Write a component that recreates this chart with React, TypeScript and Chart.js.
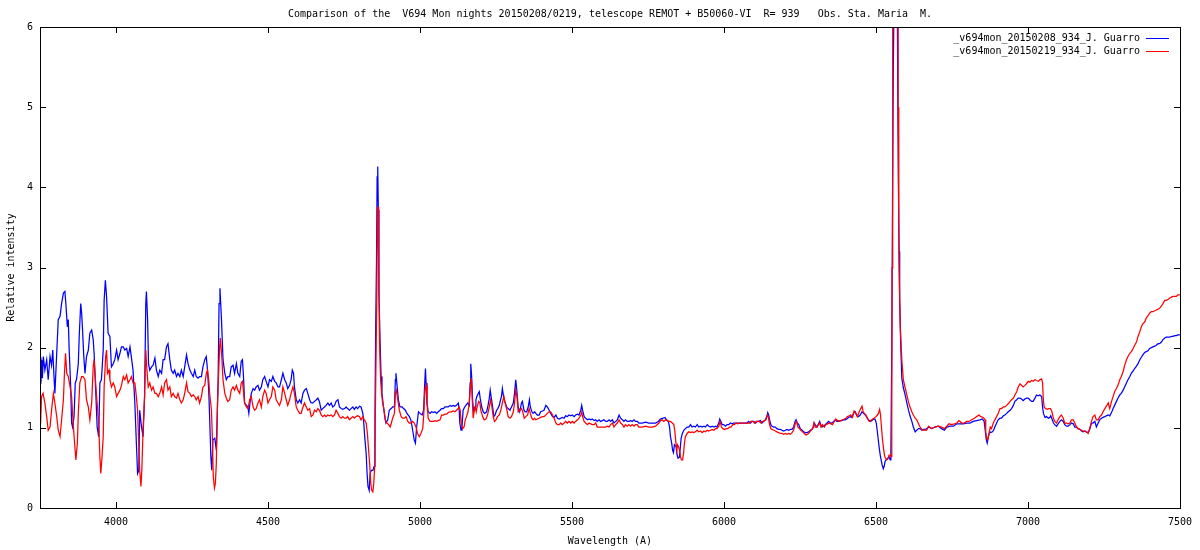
import { useEffect, useRef } from 'react';
import { Chart, registerables } from 'chart.js';

Chart.register(...registerables);

const TITLE = 'Comparison of the  V694 Mon nights 20150208/0219, telescope REMOT + B50060-VI  R= 939   Obs. Sta. Maria  M.';
const X_LABEL = 'Wavelength (A)';
const Y_LABEL = 'Relative intensity';
const X_TICKS = [4000, 4500, 5000, 5500, 6000, 6500, 7000, 7500];
const Y_TICKS = [0, 1, 2, 3, 4, 5, 6];
const SERIES_NAMES = ['_v694mon_20150208_934_J. Guarro', '_v694mon_20150219_934_J. Guarro'];
const SERIES_COLORS = ['#0000ff', '#ff0000'];

// night 2015-02-08: [wavelength (A), relative intensity]
const SPEC_0208: [number, number][] = [
  [3750,1.88],[3753,1.55],[3756,1.85],[3758,1.62],[3761,1.89],[3766,1.72],[3772,1.85],[3777,1.60],[3783,1.89],[3788,1.78],[3792,1.97],[3796,1.64],[3799,1.43],[3805,1.93],[3810,2.35],[3816,2.39],[3821,2.55],[3827,2.68],[3832,2.70],[3835,2.55],[3840,2.26],[3843,2.35],[3846,1.97],[3851,1.51],[3854,1.06],[3857,1.01],[3862,1.14],[3866,1.56],[3870,1.60],[3876,1.80],[3879,2.14],[3884,2.55],[3887,2.43],[3890,2.22],[3894,1.89],[3898,1.68],[3903,1.89],[3909,1.97],[3914,2.18],[3920,2.22],[3925,2.10],[3928,1.93],[3934,1.39],[3938,1.01],[3943,0.89],[3947,1.56],[3952,1.60],[3958,1.97],[3961,2.59],[3965,2.84],[3969,2.64],[3974,2.18],[3980,2.14],[3985,1.76],[3991,1.80],[3996,1.85],[4002,1.97],[4007,1.85],[4013,1.93],[4018,2.01],[4024,2.01],[4029,1.97],[4035,1.99],[4040,1.89],[4046,2.01],[4051,1.87],[4056,1.72],[4062,1.31],[4067,0.81],[4071,0.43],[4075,0.47],[4078,1.22],[4084,1.01],[4089,0.89],[4094,1.39],[4098,2.55],[4100,2.70],[4104,2.35],[4107,1.80],[4111,1.72],[4117,1.76],[4122,1.78],[4128,1.87],[4133,1.72],[4139,1.64],[4144,1.72],[4150,1.68],[4155,1.85],[4160,1.85],[4166,2.01],[4171,2.05],[4177,1.85],[4182,1.72],[4188,1.68],[4193,1.72],[4199,1.64],[4204,1.68],[4210,1.64],[4215,1.72],[4221,1.64],[4226,1.76],[4232,1.91],[4237,1.80],[4243,1.72],[4248,1.68],[4254,1.64],[4259,1.72],[4264,1.64],[4270,1.62],[4275,1.64],[4281,1.64],[4286,1.76],[4292,1.85],[4297,1.89],[4301,1.72],[4305,1.47],[4308,1.14],[4312,0.64],[4315,0.47],[4319,0.85],[4325,0.87],[4330,0.72],[4336,1.60],[4339,2.55],[4342,2.74],[4347,2.35],[4352,1.85],[4358,1.68],[4363,1.60],[4368,1.64],
  [4374,1.64],[4379,1.76],[4385,1.78],[4390,1.68],[4396,1.80],[4401,1.68],[4407,1.64],[4412,1.83],[4416,1.85],[4420,1.60],[4423,1.31],[4429,1.28],[4434,1.26],[4437,1.18],[4442,1.35],[4445,1.43],[4451,1.49],[4456,1.47],[4461,1.51],[4467,1.53],[4472,1.47],[4478,1.51],[4483,1.60],[4489,1.64],[4494,1.58],[4500,1.51],[4505,1.60],[4511,1.58],[4516,1.64],[4522,1.58],[4527,1.56],[4533,1.51],[4538,1.51],[4544,1.60],[4549,1.68],[4555,1.60],[4560,1.56],[4565,1.49],[4571,1.53],[4576,1.60],[4580,1.72],[4584,1.68],[4587,1.51],[4593,1.35],[4598,1.31],[4604,1.35],[4609,1.31],[4615,1.43],[4620,1.47],[4626,1.49],[4631,1.43],[4637,1.35],[4642,1.31],[4648,1.31],[4653,1.33],[4659,1.35],[4664,1.37],[4669,1.33],[4675,1.22],[4680,1.24],[4686,1.26],[4691,1.28],[4697,1.31],[4702,1.28],[4708,1.31],[4713,1.26],[4719,1.28],[4724,1.33],[4730,1.35],[4735,1.26],[4741,1.24],[4746,1.23],[4752,1.24],[4757,1.26],[4762,1.24],[4768,1.22],[4773,1.24],[4779,1.26],[4784,1.23],[4790,1.26],[4795,1.24],[4801,1.27],[4806,1.26],[4812,1.18],[4815,1.06],[4819,0.85],[4823,0.68],[4826,0.43],[4829,0.27],[4833,0.22],[4836,0.43],[4840,0.47],[4845,0.47],[4849,0.52],[4852,1.18],[4854,2.14],[4857,3.09],[4859,4.13],[4861,4.26],[4863,3.72],[4865,2.68],[4869,2.05],[4872,1.64],[4875,1.43],[4880,1.26],[4884,1.14],[4888,1.06],[4894,1.10],[4899,1.22],[4905,1.24],[4910,1.26],[4916,1.26],[4919,1.60],[4921,1.68],[4925,1.51],[4929,1.35],[4934,1.26],[4941,1.26],[4946,1.24],[4952,1.22],[4957,1.18],
  [4965,1.14],[4970,1.10],[4976,0.97],[4981,0.85],[4985,0.81],[4989,1.01],[4995,1.20],[5000,1.18],[5007,1.16],[5012,1.22],[5015,1.51],[5018,1.74],[5020,1.56],[5023,1.31],[5027,1.20],[5033,1.18],[5038,1.20],[5044,1.19],[5049,1.20],[5055,1.18],[5060,1.20],[5066,1.22],[5071,1.24],[5077,1.24],[5082,1.26],[5088,1.26],[5093,1.26],[5099,1.28],[5104,1.27],[5109,1.28],[5115,1.27],[5120,1.28],[5126,1.31],[5129,1.22],[5131,1.06],[5135,0.97],[5138,1.01],[5142,1.22],[5147,1.26],[5151,1.28],[5157,1.31],[5162,1.28],[5165,1.56],[5167,1.80],[5170,1.64],[5173,1.35],[5176,1.22],[5181,1.26],[5184,1.35],[5187,1.39],[5192,1.43],[5195,1.45],[5198,1.37],[5203,1.26],[5208,1.20],[5213,1.18],[5219,1.20],[5223,1.26],[5228,1.37],[5231,1.47],[5234,1.39],[5239,1.26],[5243,1.14],[5247,1.16],[5252,1.22],[5256,1.24],[5261,1.28],[5265,1.35],[5268,1.39],[5271,1.49],[5275,1.39],[5279,1.33],[5285,1.26],[5290,1.24],[5296,1.22],[5301,1.26],[5307,1.31],[5311,1.43],[5315,1.60],[5319,1.45],[5323,1.26],[5328,1.20],[5334,1.31],[5337,1.33],[5342,1.22],[5346,1.20],[5351,1.20],[5356,1.26],[5360,1.35],[5363,1.26],[5368,1.20],[5372,1.18],[5377,1.20],[5381,1.18],[5386,1.16],[5392,1.16],[5397,1.20],[5403,1.21],[5408,1.22],[5414,1.28],[5419,1.26],[5425,1.22],[5430,1.18],[5436,1.14],[5441,1.13],[5447,1.16],[5452,1.12],[5458,1.11],[5463,1.12],[5468,1.13],[5474,1.12],[5479,1.15],[5485,1.14],[5490,1.16],[5496,1.15],[5501,1.16],[5507,1.14],[5512,1.16],[5518,1.17],[5523,1.16],[5529,1.22],[5532,1.28],[5535,1.22],[5540,1.14],[5545,1.12],[5551,1.10],[5556,1.11],[5562,1.10],[5567,1.11],[5573,1.09],[5578,1.10],[5583,1.08],[5589,1.10],[5594,1.08],[5600,1.09],[5605,1.10],[5611,1.08],[5616,1.08],[5622,1.10],[5627,1.08],[5633,1.10],[5638,1.06],[5644,1.08],[5649,1.10],[5655,1.16],[5660,1.12],[5666,1.10],[5671,1.08],[5676,1.10],[5682,1.08],[5687,1.08],[5693,1.09],[5698,1.08],[5704,1.10],[5709,1.08],[5715,1.08],
  [5720,1.06],[5731,1.06],[5742,1.07],[5753,1.06],[5764,1.06],[5775,1.06],[5784,1.08],[5791,1.11],[5799,1.12],[5806,1.13],[5811,1.10],[5817,1.08],[5821,1.01],[5824,0.89],[5828,0.81],[5831,0.72],[5834,0.69],[5837,0.79],[5842,0.77],[5846,0.66],[5849,0.62],[5853,0.63],[5856,0.74],[5859,0.87],[5863,0.93],[5868,0.97],[5873,0.99],[5879,1.01],[5884,1.01],[5890,1.04],[5895,1.01],[5901,1.02],[5906,1.01],[5912,1.04],[5917,1.01],[5923,1.02],[5928,1.01],[5934,1.02],[5939,1.01],[5945,1.04],[5950,1.02],[5956,1.01],[5961,1.02],[5967,1.01],[5972,1.02],[5977,1.01],[5983,1.06],[5986,1.11],[5990,1.08],[5994,1.04],[5999,1.04],[6005,1.02],[6010,1.04],[6016,1.04],[6021,1.06],[6027,1.05],[6032,1.06],[6038,1.06],[6043,1.06],[6049,1.06],[6054,1.06],[6060,1.06],[6065,1.06],[6071,1.06],[6076,1.06],[6081,1.08],[6087,1.06],[6092,1.08],[6098,1.08],[6103,1.06],[6109,1.08],[6114,1.08],[6120,1.09],[6125,1.06],[6131,1.08],[6136,1.10],[6141,1.14],[6144,1.19],[6147,1.16],[6150,1.10],[6154,1.04],[6158,1.02],[6164,1.01],[6169,1.01],[6174,0.99],[6180,0.98],[6185,0.98],[6191,0.97],[6196,0.96],[6202,0.97],[6207,0.98],[6213,0.97],[6218,0.98],[6224,0.98],[6229,1.01],[6234,1.08],[6237,1.10],[6241,1.06],[6246,1.04],[6251,0.99],[6257,0.97],[6262,0.95],[6268,0.94],[6273,0.94],[6279,0.95],[6284,0.97],[6289,0.98],[6294,1.01],[6297,1.06],[6300,1.04],[6306,1.01],[6311,1.05],[6315,1.08],[6318,1.04],[6322,1.01],[6328,1.02],[6333,1.04],[6339,1.06],[6344,1.08],[6350,1.06],[6355,1.06],[6361,1.08],[6366,1.10],[6371,1.08],[6377,1.08],[6382,1.09],[6388,1.09],[6393,1.10],[6399,1.10],[6404,1.11],[6410,1.13],[6415,1.14],[6421,1.13],[6426,1.18],[6432,1.20],[6437,1.15],[6443,1.14],[6448,1.16],[6454,1.20],[6459,1.18],[6465,1.16],[6470,1.13],[6475,1.10],[6481,1.08],[6486,1.09],[6492,1.11],[6497,1.11],[6501,1.06],[6504,0.97],[6507,0.87],[6510,0.77],[6514,0.66],[6517,0.60],[6520,0.54],[6524,0.49],[6527,0.52],[6530,0.58],[6535,0.61],[6539,0.62],[6543,0.64],[6547,0.60],[6549,0.66],
  [6552,2.00],[6554,3.50],[6557,5.50],[6560,6.50],[6566,6.80],[6570,6.40],[6572,5.00],[6574,4.00],[6576,3.20],[6578,2.60],[6581,2.10],[6585,1.62],[6590,1.50],[6596,1.41],[6601,1.32],[6607,1.22],[6612,1.15],[6618,1.08],[6623,1.01],[6629,0.95],[6634,0.97],[6640,0.99],[6645,0.99],[6651,0.97],[6656,0.98],[6662,0.98],[6667,0.99],
  [6673,1.01],[6683,0.99],[6694,1.01],[6705,1.02],[6716,0.99],[6725,0.97],[6733,1.01],[6744,1.02],[6755,1.02],[6766,1.05],[6777,1.05],[6787,1.05],[6798,1.06],[6809,1.06],[6820,1.08],[6831,1.09],[6842,1.10],[6850,1.11],[6856,1.08],[6860,0.95],[6863,0.85],[6866,0.81],[6870,0.89],[6874,0.95],[6878,0.94],[6883,0.95],[6887,0.97],[6891,1.01],[6897,1.06],[6902,1.10],[6908,1.12],[6913,1.12],[6919,1.15],[6924,1.16],[6930,1.18],[6935,1.20],[6941,1.22],[6946,1.24],[6952,1.28],[6957,1.33],[6963,1.35],[6968,1.37],[6974,1.37],[6979,1.36],[6984,1.34],[6990,1.36],[6995,1.37],[7001,1.37],[7006,1.35],[7012,1.33],[7017,1.33],[7023,1.37],[7028,1.41],[7034,1.40],[7039,1.41],[7045,1.39],[7048,1.26],[7051,1.18],[7056,1.13],[7061,1.14],[7067,1.12],[7072,1.13],[7075,1.15],[7080,1.10],[7084,1.06],[7088,1.04],[7094,1.02],[7099,1.05],[7105,1.08],[7110,1.10],[7116,1.08],[7121,1.04],[7127,1.02],[7132,1.02],[7138,1.04],[7143,1.06],[7149,1.05],[7154,1.01],[7160,1.01],[7165,0.99],[7171,0.98],[7176,0.96],[7181,0.95],[7187,0.96],[7192,0.95],[7198,0.94],[7203,0.98],[7209,1.06],[7214,1.06],[7220,1.08],[7225,1.01],[7231,1.06],[7236,1.10],[7242,1.12],[7247,1.13],[7253,1.14],[7258,1.15],[7264,1.16],[7269,1.15],[7275,1.19],[7280,1.24],[7285,1.28],[7291,1.33],[7296,1.37],[7302,1.41],[7307,1.43],[7313,1.47],[7318,1.51],[7324,1.56],[7329,1.60],[7335,1.64],[7340,1.68],[7346,1.71],[7351,1.74],[7357,1.77],[7362,1.80],[7368,1.85],[7373,1.88],[7378,1.91],[7384,1.94],[7389,1.95],[7395,1.96],[7400,1.99],[7406,2.00],[7411,2.01],[7417,2.02],[7422,2.03],[7428,2.05],[7433,2.05],[7439,2.07],[7444,2.10],[7450,2.12],[7455,2.13],[7461,2.13],[7466,2.13],[7472,2.14],[7477,2.14],[7483,2.15],[7488,2.15],[7493,2.16],[7500,2.16],
];

// night 2015-02-19: [wavelength (A), relative intensity]
const SPEC_0219: [number, number][] = [
  [3750,1.14],[3752,1.05],[3755,1.39],[3760,1.43],[3766,1.31],[3772,1.14],[3777,0.97],[3783,1.01],[3788,1.22],[3794,1.43],[3799,1.31],[3805,1.14],[3810,0.97],[3816,0.89],[3821,1.10],[3827,1.35],[3830,1.64],[3834,1.93],[3838,1.68],[3843,1.64],[3849,1.51],[3854,1.39],[3859,1.06],[3863,0.85],[3868,0.60],[3873,0.81],[3876,1.18],[3881,1.56],[3887,1.64],[3892,1.64],[3898,1.60],[3903,1.35],[3909,1.26],[3914,1.10],[3920,1.31],[3925,1.76],[3928,1.85],[3934,1.51],[3938,1.31],[3943,1.06],[3947,0.64],[3950,0.43],[3954,0.64],[3958,0.89],[3961,1.51],[3966,1.89],[3969,1.97],[3972,1.68],[3977,1.72],[3980,1.60],[3985,1.51],[3991,1.56],[3996,1.51],[4002,1.39],[4007,1.43],[4013,1.47],[4018,1.53],[4024,1.64],[4029,1.60],[4035,1.66],[4040,1.56],[4046,1.60],[4051,1.64],[4056,1.56],[4062,1.56],[4067,1.39],[4071,1.22],[4075,0.77],[4078,0.47],[4082,0.27],[4085,0.47],[4089,0.97],[4094,1.39],[4098,1.97],[4101,1.76],[4106,1.51],[4111,1.56],[4117,1.47],[4122,1.51],[4128,1.43],[4133,1.43],[4139,1.39],[4144,1.43],[4150,1.51],[4155,1.41],[4160,1.56],[4166,1.60],[4171,1.47],[4177,1.51],[4182,1.39],[4188,1.43],[4193,1.39],[4199,1.37],[4204,1.43],[4210,1.35],[4215,1.31],[4221,1.35],[4226,1.43],[4232,1.56],[4237,1.45],[4243,1.43],[4248,1.39],[4254,1.41],[4259,1.39],[4264,1.35],[4270,1.39],[4275,1.31],[4281,1.39],[4286,1.51],[4292,1.53],[4297,1.68],[4301,1.72],[4305,1.60],[4308,1.43],[4314,1.22],[4317,0.89],[4320,0.39],[4324,0.25],[4327,0.31],[4330,0.56],[4334,1.31],[4338,1.72],[4341,2.01],[4343,2.12],[4348,1.89],[4352,1.60],[4358,1.43],[4363,1.37],[4368,1.33],
  [4374,1.35],[4379,1.47],[4385,1.51],[4390,1.47],[4396,1.53],[4401,1.47],[4407,1.43],[4412,1.56],[4416,1.58],[4420,1.43],[4423,1.31],[4429,1.26],[4434,1.24],[4440,1.35],[4445,1.39],[4451,1.26],[4456,1.22],[4461,1.24],[4467,1.31],[4472,1.35],[4478,1.26],[4483,1.39],[4489,1.47],[4494,1.43],[4500,1.31],[4505,1.35],[4511,1.39],[4516,1.51],[4522,1.47],[4527,1.35],[4533,1.31],[4538,1.28],[4544,1.35],[4549,1.51],[4555,1.43],[4560,1.35],[4565,1.28],[4571,1.35],[4576,1.43],[4582,1.51],[4587,1.43],[4593,1.26],[4598,1.22],[4604,1.18],[4609,1.18],[4615,1.26],[4620,1.31],[4626,1.26],[4631,1.22],[4637,1.24],[4642,1.14],[4648,1.16],[4653,1.22],[4659,1.20],[4664,1.24],[4669,1.22],[4675,1.16],[4680,1.14],[4686,1.16],[4691,1.14],[4697,1.16],[4702,1.15],[4708,1.16],[4713,1.14],[4719,1.16],[4724,1.22],[4730,1.18],[4735,1.14],[4741,1.12],[4746,1.14],[4752,1.12],[4757,1.12],[4762,1.14],[4768,1.10],[4773,1.12],[4779,1.14],[4784,1.12],[4790,1.14],[4795,1.15],[4801,1.14],[4806,1.10],[4812,1.14],[4817,1.10],[4823,1.06],[4827,0.93],[4831,0.72],[4835,0.52],[4838,0.31],[4841,0.22],[4845,0.20],[4848,0.31],[4851,0.52],[4854,1.43],[4858,2.68],[4860,3.72],[4862,3.76],[4864,3.09],[4867,2.05],[4870,1.64],[4873,1.47],[4877,1.31],[4882,1.22],[4886,1.10],[4891,1.06],[4897,1.04],[4902,1.01],[4906,1.06],[4910,1.12],[4916,1.18],[4919,1.43],[4922,1.47],[4927,1.35],[4932,1.22],[4938,1.14],[4943,1.12],[4949,1.12],[4954,1.14],[4960,1.08],
  [4965,1.06],[4970,1.06],[4976,1.08],[4981,1.06],[4987,1.01],[4992,0.93],[4998,0.89],[5003,0.93],[5009,0.99],[5012,1.14],[5016,1.47],[5020,1.53],[5023,1.31],[5027,1.12],[5033,1.08],[5038,1.08],[5044,1.08],[5049,1.09],[5055,1.08],[5060,1.09],[5066,1.10],[5071,1.16],[5077,1.16],[5082,1.17],[5088,1.17],[5093,1.19],[5099,1.20],[5104,1.20],[5109,1.21],[5115,1.20],[5120,1.22],[5126,1.24],[5129,1.26],[5132,1.22],[5136,1.06],[5140,0.99],[5145,1.01],[5149,1.10],[5153,1.14],[5158,1.20],[5162,1.31],[5165,1.47],[5169,1.62],[5172,1.35],[5175,1.12],[5178,1.20],[5182,1.26],[5185,1.20],[5188,1.26],[5193,1.33],[5197,1.31],[5200,1.22],[5206,1.14],[5211,1.10],[5217,1.11],[5222,1.16],[5228,1.26],[5232,1.35],[5236,1.28],[5241,1.14],[5245,1.08],[5250,1.10],[5255,1.14],[5261,1.16],[5266,1.22],[5271,1.31],[5276,1.39],[5280,1.31],[5285,1.24],[5290,1.14],[5296,1.12],[5301,1.14],[5307,1.20],[5311,1.31],[5315,1.47],[5319,1.39],[5323,1.20],[5328,1.22],[5334,1.24],[5338,1.20],[5343,1.12],[5348,1.14],[5354,1.16],[5359,1.24],[5363,1.18],[5368,1.12],[5372,1.10],[5377,1.12],[5381,1.10],[5386,1.11],[5392,1.12],[5397,1.13],[5403,1.14],[5408,1.14],[5414,1.16],[5419,1.18],[5425,1.20],[5430,1.20],[5436,1.16],[5441,1.12],[5447,1.06],[5452,1.04],[5458,1.04],[5463,1.06],[5468,1.04],[5474,1.06],[5479,1.08],[5485,1.06],[5490,1.08],[5496,1.06],[5501,1.08],[5507,1.06],[5512,1.08],[5518,1.10],[5523,1.12],[5529,1.16],[5532,1.20],[5535,1.14],[5540,1.08],[5545,1.06],[5551,1.04],[5556,1.06],[5562,1.05],[5567,1.04],[5573,1.04],[5578,1.06],[5583,1.01],[5589,1.01],[5594,1.01],[5600,1.01],[5605,1.01],[5611,1.01],[5616,1.02],[5622,1.01],[5627,1.04],[5633,1.06],[5638,1.01],[5644,1.04],[5649,1.06],[5655,1.10],[5660,1.06],[5666,1.04],[5671,1.01],[5676,1.04],[5682,1.02],[5687,1.04],[5693,1.02],[5698,1.04],[5704,1.02],[5709,1.04],[5715,1.04],
  [5720,1.01],[5731,1.01],[5742,1.02],[5753,1.01],[5764,1.01],[5775,1.02],[5786,1.06],[5791,1.09],[5797,1.10],[5802,1.08],[5808,1.10],[5813,1.09],[5819,1.08],[5824,1.08],[5830,1.06],[5835,1.04],[5838,0.97],[5842,0.81],[5845,0.72],[5847,0.79],[5850,0.77],[5854,0.72],[5857,0.64],[5860,0.60],[5864,0.60],[5867,0.68],[5870,0.81],[5873,0.89],[5879,0.93],[5884,0.95],[5890,0.94],[5895,0.95],[5901,0.94],[5906,0.95],[5912,0.97],[5917,0.95],[5923,0.96],[5928,0.94],[5934,0.96],[5939,0.95],[5945,0.97],[5950,0.96],[5956,0.97],[5961,0.98],[5967,0.97],[5972,0.99],[5977,0.99],[5983,1.02],[5987,1.08],[5992,1.01],[5996,0.99],[6002,0.98],[6007,0.99],[6013,0.99],[6018,1.01],[6023,1.01],[6029,1.04],[6034,1.04],[6040,1.06],[6045,1.05],[6051,1.06],[6056,1.06],[6062,1.06],[6067,1.06],[6073,1.06],[6078,1.06],[6084,1.06],[6089,1.08],[6095,1.08],[6100,1.06],[6106,1.08],[6111,1.08],[6116,1.08],[6122,1.06],[6127,1.08],[6133,1.09],[6138,1.10],[6143,1.16],[6146,1.14],[6149,1.06],[6154,0.99],[6158,0.98],[6164,0.97],[6169,0.96],[6174,0.95],[6180,0.94],[6185,0.93],[6191,0.93],[6196,0.92],[6202,0.93],[6207,0.92],[6213,0.93],[6218,0.92],[6224,0.94],[6229,0.97],[6235,1.06],[6239,1.08],[6243,1.01],[6248,0.99],[6253,0.97],[6259,0.95],[6264,0.93],[6270,0.91],[6275,0.92],[6281,0.94],[6286,0.97],[6292,0.99],[6296,1.06],[6300,1.01],[6306,1.01],[6311,1.04],[6315,1.06],[6319,1.01],[6324,1.04],[6330,1.01],[6335,1.04],[6341,1.05],[6346,1.06],[6352,1.05],[6357,1.04],[6363,1.08],[6368,1.11],[6374,1.09],[6379,1.08],[6385,1.09],[6390,1.10],[6396,1.11],[6401,1.12],[6406,1.14],[6412,1.15],[6417,1.16],[6423,1.13],[6428,1.21],[6434,1.18],[6439,1.14],[6445,1.20],[6450,1.24],[6454,1.27],[6458,1.20],[6462,1.18],[6467,1.16],[6472,1.12],[6478,1.08],[6483,1.09],[6489,1.11],[6494,1.12],[6500,1.14],[6505,1.16],[6508,1.18],[6512,1.23],[6515,1.16],[6518,1.01],[6521,0.87],[6525,0.74],[6528,0.66],[6531,0.62],[6535,0.60],[6539,0.61],[6543,0.66],[6548,0.66],[6550,0.64],
  [6552,1.06],[6553,3.00],[6555,6.60],[6564,7.00],[6572,6.60],[6573,5.00],[6575,3.50],[6577,2.80],[6580,2.25],[6585,1.85],[6590,1.60],[6596,1.50],[6601,1.42],[6607,1.32],[6612,1.26],[6618,1.20],[6623,1.16],[6629,1.12],[6634,1.10],[6640,1.05],[6645,1.01],[6651,0.98],[6656,0.97],[6662,0.97],[6667,0.97],
  [6673,1.02],[6683,0.99],[6694,1.01],[6705,1.02],[6716,1.01],[6725,0.99],[6733,1.02],[6740,1.05],[6749,1.04],[6758,1.05],[6766,1.06],[6773,1.09],[6782,1.06],[6791,1.06],[6798,1.08],[6806,1.08],[6815,1.10],[6824,1.12],[6831,1.14],[6839,1.16],[6845,1.14],[6853,1.13],[6859,1.10],[6861,0.95],[6864,0.87],[6867,0.85],[6872,0.93],[6876,1.01],[6880,0.99],[6886,1.06],[6891,1.10],[6897,1.14],[6902,1.18],[6908,1.24],[6913,1.24],[6919,1.26],[6924,1.26],[6930,1.28],[6935,1.30],[6941,1.33],[6946,1.35],[6952,1.37],[6957,1.41],[6963,1.45],[6968,1.51],[6974,1.55],[6979,1.53],[6984,1.51],[6990,1.53],[6995,1.55],[7001,1.58],[7006,1.57],[7012,1.59],[7017,1.58],[7023,1.60],[7028,1.59],[7034,1.58],[7039,1.60],[7045,1.61],[7048,1.56],[7050,1.39],[7053,1.26],[7058,1.24],[7063,1.23],[7069,1.24],[7074,1.24],[7079,1.20],[7083,1.13],[7088,1.08],[7094,1.06],[7099,1.10],[7105,1.14],[7110,1.16],[7116,1.12],[7121,1.06],[7127,1.06],[7132,1.05],[7138,1.06],[7143,1.10],[7149,1.10],[7154,1.06],[7160,1.01],[7165,0.99],[7171,0.98],[7176,0.97],[7181,0.96],[7187,0.96],[7192,0.95],[7198,0.93],[7203,0.99],[7209,1.08],[7214,1.14],[7220,1.16],[7225,1.10],[7231,1.10],[7236,1.14],[7242,1.16],[7247,1.20],[7253,1.24],[7258,1.27],[7264,1.31],[7269,1.24],[7275,1.33],[7280,1.39],[7285,1.45],[7291,1.49],[7296,1.53],[7302,1.60],[7307,1.64],[7313,1.70],[7318,1.78],[7324,1.85],[7329,1.89],[7335,1.93],[7340,1.95],[7346,1.99],[7351,2.03],[7357,2.07],[7362,2.14],[7368,2.20],[7373,2.26],[7378,2.30],[7384,2.32],[7389,2.37],[7395,2.40],[7400,2.43],[7406,2.45],[7411,2.45],[7417,2.46],[7422,2.47],[7428,2.48],[7433,2.49],[7439,2.52],[7444,2.55],[7450,2.59],[7455,2.59],[7461,2.60],[7466,2.62],[7472,2.63],[7477,2.64],[7483,2.64],[7488,2.64],[7493,2.66],[7500,2.66],
];

const FONT_FAMILY = "'DejaVu Sans Mono', 'Liberation Mono', monospace";

const gnuplotFrame = {
  id: 'gnuplotFrame',
  afterDraw(chart: any) {
    const { ctx, chartArea: a, scales } = chart;
    const tl = 6;
    ctx.save();
    ctx.strokeStyle = '#000';
    ctx.lineWidth = 1;
    ctx.beginPath();
    for (const v of X_TICKS) {
      const x = Math.round(scales.x.getPixelForValue(v)) + 0.5;
      ctx.moveTo(x, a.bottom);
      ctx.lineTo(x, a.bottom - tl);
      ctx.moveTo(x, a.top);
      ctx.lineTo(x, a.top + tl);
    }
    for (const v of Y_TICKS) {
      const y = Math.round(scales.y.getPixelForValue(v)) + 0.5;
      ctx.moveTo(a.left, y);
      ctx.lineTo(a.left + tl, y);
      ctx.moveTo(a.right, y);
      ctx.lineTo(a.right - tl, y);
    }
    ctx.stroke();
    ctx.strokeRect(Math.round(a.left) + 0.5, Math.round(a.top) + 0.5, Math.round(a.right - a.left), Math.round(a.bottom - a.top));

    // key (legend) inside the plot, top right
    ctx.font = `10px ${FONT_FAMILY}`;
    ctx.textAlign = 'right';
    ctx.textBaseline = 'middle';
    chart.data.datasets.forEach((ds: any, i: number) => {
      const y = Math.round(a.top + 11 + i * 13) + 0.5;
      ctx.fillStyle = '#000';
      ctx.fillText(ds.label, a.right - 40, y);
      ctx.strokeStyle = ds.borderColor;
      ctx.beginPath();
      ctx.moveTo(a.right - 34, y);
      ctx.lineTo(a.right - 11, y);
      ctx.stroke();
    });
    ctx.restore();
  },
};

export default function App() {
  const canvasRef = useRef<HTMLCanvasElement>(null);

  useEffect(() => {
    const canvas = canvasRef.current;
    if (!canvas) return;
    const font = { family: FONT_FAMILY, size: 10, weight: 'normal' as const };
    const chart = new Chart(canvas, {
      type: 'line',
      data: {
        datasets: [
          {
            label: SERIES_NAMES[0],
            data: SPEC_0208.map(([x, y]) => ({ x, y })),
            borderColor: SERIES_COLORS[0],
            backgroundColor: SERIES_COLORS[0],
            borderWidth: 1.25,
            pointRadius: 0,
            tension: 0,
            order: 1,
          },
          {
            label: SERIES_NAMES[1],
            data: SPEC_0219.map(([x, y]) => ({ x, y })),
            borderColor: SERIES_COLORS[1],
            backgroundColor: SERIES_COLORS[1],
            borderWidth: 1.25,
            pointRadius: 0,
            tension: 0,
            order: 0,
          },
        ],
      },
      options: {
        responsive: false,
        animation: false,
        devicePixelRatio: 1,
        layout: { padding: { left: 0, right: 18, top: 0, bottom: 0 } },
        plugins: {
          legend: { display: false },
          tooltip: { enabled: false },
          title: {
            display: true,
            text: TITLE,
            fullSize: false,
            color: '#000',
            font,
            padding: { top: 8, bottom: 7 },
          },
        },
        scales: {
          x: {
            type: 'linear',
            min: 3750,
            max: 7500,
            afterBuildTicks: (scale: any) => {
              scale.ticks = X_TICKS.map((value) => ({ value }));
            },
            afterFit: (scale: any) => {
              scale.height = 42;
            },
            grid: { display: false, drawTicks: false },
            border: { display: false },
            ticks: {
              color: '#000',
              font,
              padding: 8,
              autoSkip: false,
              maxRotation: 0,
              callback: (v: any) => String(v),
            },
            title: {
              display: true,
              text: X_LABEL,
              color: '#000',
              font,
              padding: { top: 0, bottom: 3 },
            },
          },
          y: {
            type: 'linear',
            min: 0,
            max: 6,
            afterBuildTicks: (scale: any) => {
              scale.ticks = Y_TICKS.map((value) => ({ value }));
            },
            afterFit: (scale: any) => {
              scale.width = 40;
            },
            grid: { display: false, drawTicks: false },
            border: { display: false },
            ticks: {
              color: '#000',
              font,
              padding: 7,
              callback: (v: any) => String(v),
            },
            title: {
              display: true,
              text: Y_LABEL,
              color: '#000',
              font,
              padding: { top: 5, bottom: 0 },
            },
          },
        },
      },
      plugins: [gnuplotFrame],
    });
    return () => chart.destroy();
  }, []);

  return (
    <div style={{ position: 'absolute', left: 0, top: 0, width: 1200, height: 550, background: '#fff' }}>
      <canvas ref={canvasRef} width={1200} height={550} style={{ display: 'block', width: 1200, height: 550 }} />
    </div>
  );
}
